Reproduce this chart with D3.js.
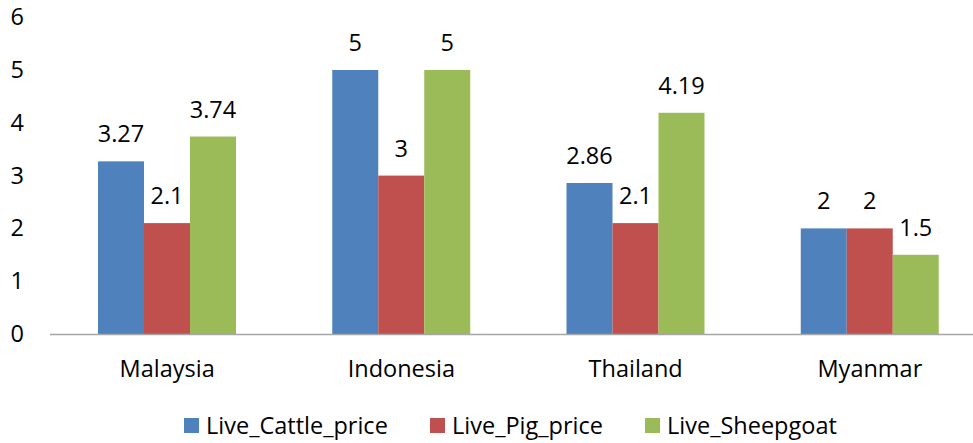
<!DOCTYPE html>
<html><head><meta charset="utf-8">
<script src="https://cdn.jsdelivr.net/npm/d3@7"></script>
<style>body{margin:0;background:#fff}svg{display:block}text{font-family:"Open Sans",sans-serif;fill:#000}</style>
</head><body><svg id="c" width="973" height="443"></svg>
<script>
const categories = ["Malaysia","Indonesia","Thailand","Myanmar"];
const seriesNames = ["Live_Cattle_price","Live_Pig_price","Live_Sheepgoat"];
const cattle = [3.27,5,2.86,2];
const pig = [2.1,3,2.1,2];
const sheepgoat = [3.74,5,4.19,1.5];
const yTicks = [0,1,2,3,4,5,6];
const colors = ["#4F81BD","#C0504D","#9BBB59"];
const series = [cattle,pig,sheepgoat];

const svg = d3.select("#c");
const x0 = d3.scaleBand().domain(categories).range([50,987]).paddingInner(0).paddingOuter(0);
const inner = d3.scaleBand().domain(seriesNames).range([48,186]);
const y = d3.scaleLinear().domain([0,6]).range([334,17.2]);
const fs = "23.5px";

// y tick labels
svg.append("g").selectAll("text").data(yTicks).join("text")
  .attr("x",24).attr("y",d=>y(d)+8).attr("text-anchor","end")
  .style("font-size",fs).text(d=>d);

// bars
const rows = [];
categories.forEach((c,i)=>seriesNames.forEach((s,j)=>rows.push({c,s,j,v:series[j][i]})));
svg.append("g").selectAll("rect").data(rows).join("rect")
  .attr("x",d=>x0(d.c)+inner(d.s)).attr("width",inner.bandwidth())
  .attr("y",d=>y(d.v)).attr("height",d=>y(0)-y(d.v)).attr("fill",d=>colors[d.j]);

// value labels
svg.append("g").selectAll("text").data(rows).join("text")
  .attr("x",d=>x0(d.c)+inner(d.s)+inner.bandwidth()/2).attr("y",d=>y(d.v)-19)
  .attr("text-anchor","middle").style("font-size",fs).text(d=>d.v);

// x axis line
svg.append("line").attr("x1",50).attr("x2",973).attr("y1",334.5).attr("y2",334.5)
  .attr("stroke","#A6A6A6").attr("stroke-width",1.5);

// category labels
svg.append("g").selectAll("text").data(categories).join("text")
  .attr("x",d=>x0(d)+x0.bandwidth()/2).attr("y",377).attr("text-anchor","middle")
  .style("font-size",fs).text(d=>d);

// legend
const legX = [184,430,645];
const lg = svg.append("g").selectAll("g").data(seriesNames).join("g")
  .attr("transform",(d,i)=>`translate(${legX[i]},418)`);
lg.append("rect").attr("width",15).attr("height",15).attr("fill",(d,i)=>colors[i]);
lg.append("text").attr("x",22).attr("y",16).style("font-size",fs).text(d=>d);
</script></body></html>
